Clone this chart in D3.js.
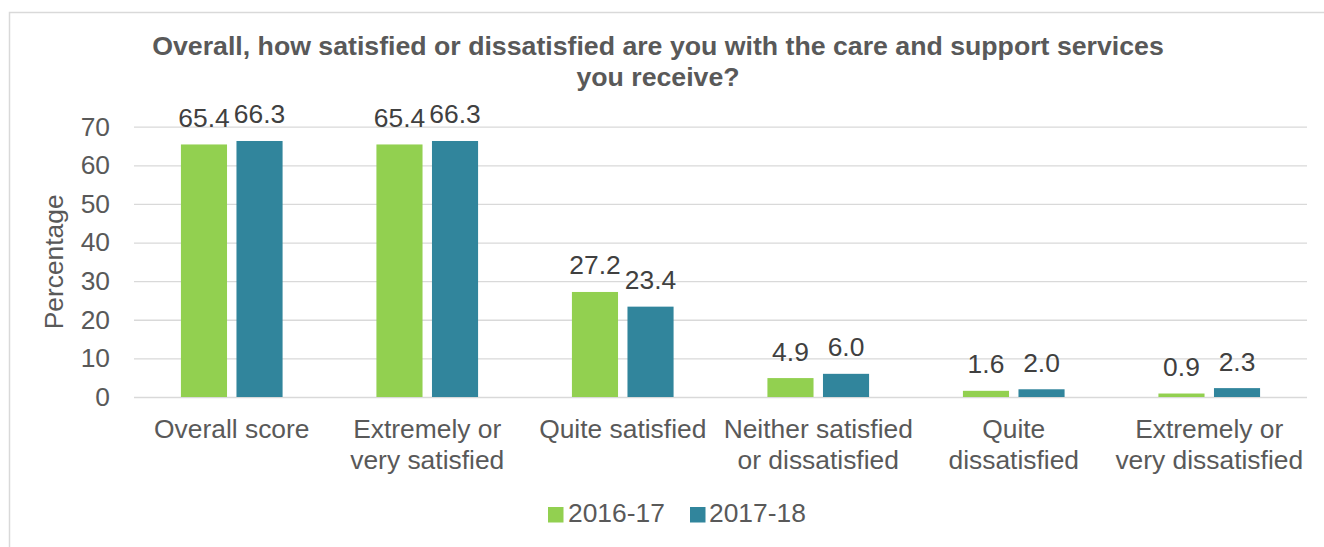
<!DOCTYPE html>
<html>
<head>
<meta charset="utf-8">
<script src="https://cdn.jsdelivr.net/npm/d3@7"></script>
<style>
  html, body { margin: 0; padding: 0; background: #fff; }
  svg { display: block; font-family: "Liberation Sans", Arial, sans-serif; }
</style>
</head>
<body>
<svg id="chart" width="1324" height="547"></svg>
<script>
// Survey responses: share of people by satisfaction level, two survey years
const categories = [
  ["Overall score"],
  ["Extremely or", "very satisfied"],
  ["Quite satisfied"],
  ["Neither satisfied", "or dissatisfied"],
  ["Quite", "dissatisfied"],
  ["Extremely or", "very dissatisfied"]
];
const seriesNames = ["2016-17", "2017-18"];
const values2016 = [65.4, 65.4, 27.2, 4.9, 1.6, 0.9];
const values2017 = [66.3, 66.3, 23.4, 6.0, 2.0, 2.3];
const yTicks = [0, 10, 20, 30, 40, 50, 60, 70];
const titleLines = [
  "Overall, how satisfied or dissatisfied are you with the care and support services",
  "you receive?"
];
const yTitle = "Percentage";

const colors = { "2016-17": "#92D050", "2017-18": "#31859C" };
const textColor = "#595959";
const gridColor = "#D9D9D9";
const fontSize = 26.4;

const svg = d3.select("#chart");

// chart frame
svg.append("rect")
  .attr("x", 9.5).attr("y", 12.5)
  .attr("width", 1330).attr("height", 560)
  .attr("fill", "none")
  .attr("stroke", gridColor)
  .attr("stroke-width", 1.5);

const plot = { left: 134, right: 1307, top: 126.7, bottom: 397 };
const catKeys = categories.map(c => c.join(" "));

const x0 = d3.scaleBand()
  .domain(catKeys)
  .range([plot.left, plot.right])
  .paddingInner(0.48)
  .paddingOuter(0.24);

const x1 = d3.scaleBand()
  .domain(seriesNames)
  .range([0, x0.bandwidth()])
  .paddingInner(0.17);

const y = d3.scaleLinear()
  .domain([0, 70])
  .range([plot.bottom, plot.top]);

// title
const title = svg.append("text")
  .attr("text-anchor", "middle")
  .attr("fill", textColor)
  .attr("font-weight", "bold")
  .attr("font-size", 26.7);
titleLines.forEach((line, i) => {
  title.append("tspan")
    .attr("x", 658)
    .attr("y", 55 + i * 31)
    .text(line);
});

// horizontal gridlines and y tick labels
const yAxis = d3.axisLeft(y)
  .tickValues(yTicks)
  .tickSize(-(plot.right - plot.left))
  .tickPadding(24)
  .tickFormat(d3.format("d"));

const yg = svg.append("g")
  .attr("transform", `translate(${plot.left},0)`)
  .call(yAxis);
yg.select(".domain").remove();
yg.selectAll(".tick line")
  .attr("stroke", gridColor)
  .attr("stroke-width", 1.3);
yg.selectAll(".tick text")
  .attr("fill", textColor)
  .attr("font-size", fontSize)
  .attr("font-family", "Liberation Sans, Arial, sans-serif");

// y axis title
svg.append("text")
  .attr("transform", `translate(63,${(plot.top + plot.bottom) / 2}) rotate(-90)`)
  .attr("text-anchor", "middle")
  .attr("fill", textColor)
  .attr("font-size", fontSize)
  .text(yTitle);

// bars
const rows = catKeys.map((k, i) => ({
  key: k,
  items: [
    { series: seriesNames[0], value: values2016[i] },
    { series: seriesNames[1], value: values2017[i] }
  ]
}));

const groups = svg.append("g").selectAll("g")
  .data(rows)
  .join("g")
  .attr("transform", d => `translate(${x0(d.key)},0)`);

groups.selectAll("rect")
  .data(d => d.items)
  .join("rect")
  .attr("x", d => x1(d.series))
  .attr("y", d => y(d.value))
  .attr("width", x1.bandwidth())
  .attr("height", d => y(0) - y(d.value))
  .attr("fill", d => colors[d.series]);

// value labels
groups.selectAll("text.val")
  .data(d => d.items)
  .join("text")
  .attr("class", "val")
  .attr("x", d => x1(d.series) + x1.bandwidth() / 2)
  .attr("y", d => y(d.value) - 17.5)
  .attr("text-anchor", "middle")
  .attr("fill", "#404040")
  .attr("font-size", fontSize)
  .text(d => d.value.toFixed(1));

// category labels
const catG = svg.append("g");
categories.forEach((lines, i) => {
  const cx = x0(catKeys[i]) + x0.bandwidth() / 2;
  const t = catG.append("text")
    .attr("text-anchor", "middle")
    .attr("fill", textColor)
    .attr("font-size", fontSize);
  lines.forEach((line, j) => {
    t.append("tspan")
      .attr("x", cx)
      .attr("y", 438 + j * 30.5)
      .text(line);
  });
});

// legend
const legendItems = [
  { name: seriesNames[0], sx: 548, tx: 568 },
  { name: seriesNames[1], sx: 690, tx: 709 }
];
const lg = svg.append("g");
legendItems.forEach(it => {
  lg.append("rect")
    .attr("x", it.sx).attr("y", 507)
    .attr("width", 15.5).attr("height", 15.5)
    .attr("fill", colors[it.name]);
  lg.append("text")
    .attr("x", it.tx).attr("y", 522)
    .attr("fill", textColor)
    .attr("font-size", fontSize)
    .text(it.name);
});
</script>
</body>
</html>
